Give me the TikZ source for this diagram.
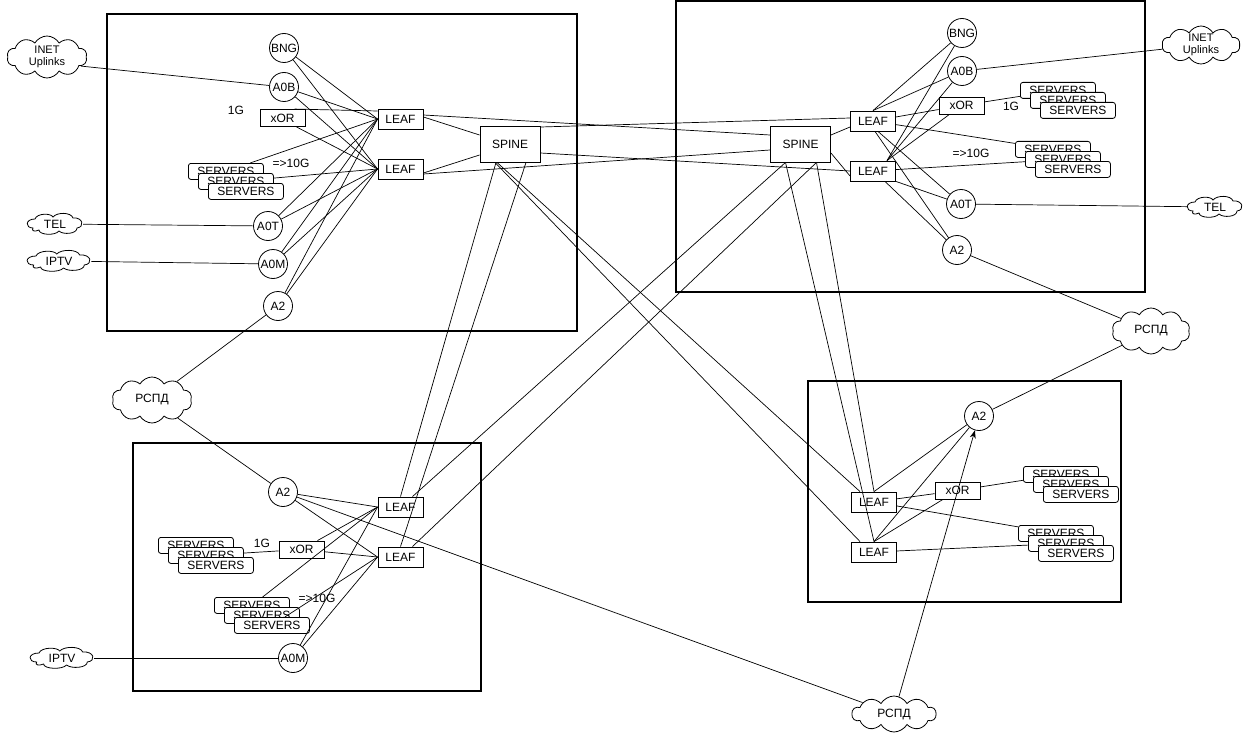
\documentclass[tikz,border=0pt]{standalone}
\usepackage{fontspec}
\setmainfont{Liberation Sans}
\usetikzlibrary{shapes.symbols,arrows.meta}
\newcommand\srvstack[2]{%
  \node[srv] (#1a) at #2 {SERVERS};
  \node[srv,xshift=10pt,yshift=-10pt] (#1b) at #2 {SERVERS};
  \node[srv,xshift=20pt,yshift=-20pt] (#1c) at #2 {SERVERS};}
% flat small cloud: name, x, y, horizontal scale, text
\newcommand\flatcloud[5]{%
  \begin{scope}[shift={(#2,#3)}, xscale=#4]
    \draw[fill=white, line width=0.8pt]
      (-22,4) .. controls (-30,4) and (-30,-5) .. (-20,-5)
      .. controls (-18,-11) and (-4,-11) .. (-2,-7)
      .. controls (2,-12) and (16,-12) .. (18,-6)
      .. controls (28,-7) and (30,3) .. (22,4)
      .. controls (22,10) and (8,11) .. (4,7)
      .. controls (0,12) and (-16,11) .. (-16,6)
      .. controls (-20,8) and (-24,7) .. (-22,4) -- cycle;
  \end{scope}
  \node[inner sep=0pt, minimum width={#4*56pt}, minimum height=20pt] (#1) at (#2,#3) {#5};}
\begin{document}
\begin{tikzpicture}[x=1pt,y=-1pt,
  every node/.style={font=\fontsize{12}{13}\selectfont},
  frm/.style={draw, line width=1.1pt},
  circ/.style={draw, circle, fill=white, minimum size=29pt, inner sep=0pt, line width=0.8pt},
  bx/.style={draw, rectangle, fill=white, minimum width=45pt, minimum height=20pt, inner sep=0pt, line width=0.9pt},
  xorb/.style={bx, minimum height=17pt},
  spn/.style={bx, minimum width=60pt, minimum height=36pt},
  srv/.style={draw, rectangle, rounded corners=2.5pt, fill=white, minimum width=75pt, minimum height=16pt, inner sep=0pt, anchor=north west, line width=0.8pt},
  cld/.style={draw, cloud, cloud puffs=10, cloud puff arc=120, cloud ignores aspect, inner sep=0pt, fill=white, line width=0.8pt},
  lnk/.style={line width=0.7pt},
  lbl/.style={inner sep=0pt},
  ctxt/.style={align=center, inner sep=0pt}
]
\useasboundingbox (0,0) rectangle (1247,733);
\fill[white] (0,0) rectangle (1247,733);

% frames
\draw[frm] (107,14) rectangle (577,331);
\draw[frm] (676,1) rectangle (1145,292);
\draw[frm] (133,443) rectangle (481,691);
\draw[frm] (808,381) rectangle (1121,602);

% clouds (outline, then text on top)
\node[cld, minimum width=80pt, minimum height=42pt] (inetL) at (47,57) {};
\node[ctxt, font=\fontsize{11}{12}\selectfont] (inetLt) at (47,57) {INET\\Uplinks};
\flatcloud{telL}{55}{224}{1}{TEL}
\flatcloud{iptvL}{59}{261}{1.15}{IPTV}
\node[cld, minimum width=80pt, minimum height=46pt] (rspdL) at (152,400) {};
\node[ctxt] (rspdLt) at (152,400) {РСПД};
\node[cld, minimum width=78pt, minimum height=38pt] (inetR) at (1201,45) {};
\node[ctxt, font=\fontsize{11}{12}\selectfont] (inetRt) at (1201,45) {INET\\Uplinks};
\flatcloud{telR}{1215}{207}{1}{TEL}
\node[cld, minimum width=78pt, minimum height=46pt] (rspdR) at (1151,331) {};
\node[ctxt] (rspdRt) at (1151,331) {РСПД};
\flatcloud{iptvB}{62}{658}{1.15}{IPTV}
\node[cld, minimum width=84pt, minimum height=36pt] (rspdB) at (894,714) {};
\node[ctxt] (rspdBt) at (894,714) {РСПД};

% top-left box
\node[circ] (tlbng) at (284,48) {BNG};
\node[circ] (tla0b) at (284,87) {A0B};
\node[xorb] (tlxor) at (282.5,118) {xOR};
\node[circ] (tla0t) at (268,226) {A0T};
\node[circ] (tla0m) at (273,264) {A0M};
\node[circ] (tla2) at (278,306) {A2};
\node[bx] (tlleafa) at (400.5,119) {LEAF};
\node[bx] (tlleafb) at (400.5,169) {LEAF};
\node[spn] (spinea) at (510,144) {SPINE};
\node[lbl] (tl1g) at (236,110) {1G};
\node[lbl] (tl10g) at (291,163) {=>10G};
\srvstack{tls}{(188,163)}

% top-right box
\node[circ] (trbng) at (962,33) {BNG};
\node[circ] (tra0b) at (962,71) {A0B};
\node[xorb] (trxor) at (961.5,105.5) {xOR};
\node[circ] (tra0t) at (961,204) {A0T};
\node[circ] (tra2) at (957,250) {A2};
\node[bx] (trleafa) at (873,121) {LEAF};
\node[bx] (trleafb) at (873,171) {LEAF};
\node[spn] (spineb) at (800.5,144) {SPINE};
\node[lbl] (tr1g) at (1011,106) {1G};
\node[lbl] (tr10g) at (971,153) {=>10G};
\srvstack{trsa}{(1020,82)}
\srvstack{trsb}{(1015,141)}

% bottom-left box
\node[circ] (bla2) at (283,492) {A2};
\node[xorb] (blxor) at (301.5,549.5) {xOR};
\node[circ] (bla0m) at (293,658) {A0M};
\node[bx] (blleafa) at (400.5,507) {LEAF};
\node[bx] (blleafb) at (400.5,557) {LEAF};
\node[lbl] (bl1g) at (262,543) {1G};
\node[lbl] (bl10g) at (317,598) {=>10G};
\srvstack{blsa}{(158,537)}
\srvstack{blsb}{(214,597)}

% bottom-right box
\node[circ] (bra2) at (979,416) {A2};
\node[xorb] (brxor) at (957.5,490.5) {xOR};
\node[bx] (brleafa) at (874,502) {LEAF};
\node[bx] (brleafb) at (874,552) {LEAF};
\srvstack{brsa}{(1023,466)}
\srvstack{brsb}{(1018,525)}

% ---- connectors: top-left
\draw[lnk] (inetL.-15) -- (tla0b);
\draw[lnk] (telL) -- (tla0t);
\draw[lnk] (iptvL) -- (tla0m);
\draw[lnk] (tla2) -- (rspdL);
\foreach \n in {tlbng,tla0b,tla0t,tla0m,tla2}{
  \draw[lnk] (\n) -- (tlleafa.west);
  \draw[lnk] (\n) -- (tlleafb.west);
}
\draw[lnk] ([xshift=12pt]tlxor.north) -- ([yshift=8pt]tlleafa.west);
\draw[lnk] ([xshift=14pt]tlxor.south) -- (tlleafb.west);
\draw[lnk] (tlsa) -- (tlleafa.west);
\draw[lnk] (tlsb) -- (tlleafb.west);
\draw[lnk] ([yshift=2pt]tlleafa.east) -- ([yshift=9pt]spinea.west);
\draw[lnk] ([yshift=-4pt]tlleafb.east) -- ([yshift=-11pt]spinea.west);

% ---- spine links
\draw[lnk] ([yshift=4pt]tlleafa.east) -- ([yshift=9pt]spineb.west);
\draw[lnk] ([yshift=-5pt]tlleafb.east) -- ([yshift=-6pt]spineb.west);
\draw[lnk] ([yshift=17pt]spinea.east) -- ([yshift=3pt]trleafa.west);
\draw[lnk] ([yshift=-9pt]spinea.east) -- (trleafb.west);
\draw[lnk] ([yshift=9pt]spineb.east) -- ([yshift=-6pt]trleafa.west);
\draw[lnk] ([yshift=-9pt]spineb.east) -- ([yshift=-5pt]trleafb.west);
\draw[lnk] ([xshift=-14pt]spinea.south) -- (blleafa.north);
\draw[lnk] ([xshift=16pt]spinea.south) -- (blleafb.north);
\draw[lnk] ([xshift=-13pt]spinea.south) -- ([xshift=-14pt]brleafa.north);
\draw[lnk] ([xshift=-15pt]spinea.south) -- ([xshift=-14pt]brleafb.north);
\draw[lnk] ([xshift=-15pt]spineb.south) -- ([xshift=12pt]blleafa.north);
\draw[lnk] ([xshift=16pt]spineb.south) -- ([xshift=12pt]blleafb.north);
\draw[lnk] ([xshift=-15pt]spineb.south) -- (brleafb.north);
\draw[lnk] ([xshift=16pt]spineb.south) -- (brleafa.north);

% ---- top-right
\draw[lnk] (trbng) -- (trleafa.north);
\draw[lnk] (trbng) -- ([xshift=14pt]trleafb.north);
\draw[lnk] (tra0b) -- (trleafa.north);
\draw[lnk] (tra0b) -- ([xshift=14pt]trleafb.north);
\draw[lnk] (trxor) -- (trleafa);
\draw[lnk] (trxor) -- ([xshift=14pt]trleafb.north);
\draw[lnk] (trxor) -- (trsaa);
\draw[lnk] (trleafa) -- (trsba);
\draw[lnk] (trleafb) -- (trsbb);
\draw[lnk] ([xshift=5pt]trleafa.south) -- (tra0t);
\draw[lnk] ([xshift=2pt]trleafa.south) -- (tra2);
\draw[lnk] (trleafb.south east) -- (tra0t);
\draw[lnk] ([xshift=12pt]trleafb.south) -- (tra2);
\draw[lnk] (tra0b) -- (inetR);
\draw[lnk] (tra0t) -- (telR);
\draw[lnk] (tra2) -- (rspdR);

% ---- bottom-left
\draw[lnk] (rspdL) -- (bla2);
\draw[lnk] (bla2) -- (blleafa.west);
\draw[lnk] (bla2) -- (blleafb.west);
\draw[lnk] (bla2) -- (rspdB);
\draw[lnk] (blxor) -- (blleafa.west);
\draw[lnk] (blxor) -- (blleafb.west);
\draw[lnk] (blsab) -- (blxor);
\draw[lnk] (blsba) -- (blleafa.west);
\draw[lnk] (blsbc) -- (blleafb.west);
\draw[lnk] (bla0m) -- (blleafa.west);
\draw[lnk] (bla0m) -- (blleafb.west);
\draw[lnk] (iptvB) -- (bla0m);

% ---- bottom-right
\draw[lnk] (brleafa.north) -- (bra2);
\draw[lnk] (brleafb.north) -- (bra2);
\draw[lnk] (brleafa) -- (brxor);
\draw[lnk] (brleafb.north) -- (brxor);
\draw[lnk] (brxor) -- (brsaa);
\draw[lnk] (brleafa) -- (brsba);
\draw[lnk] (brleafb) -- (brsbb);
\draw[lnk, -{Stealth[length=8pt,width=6pt]}] (rspdB) -- (bra2);
\draw[lnk] (bra2) -- (rspdR);
\end{tikzpicture}
\end{document}
